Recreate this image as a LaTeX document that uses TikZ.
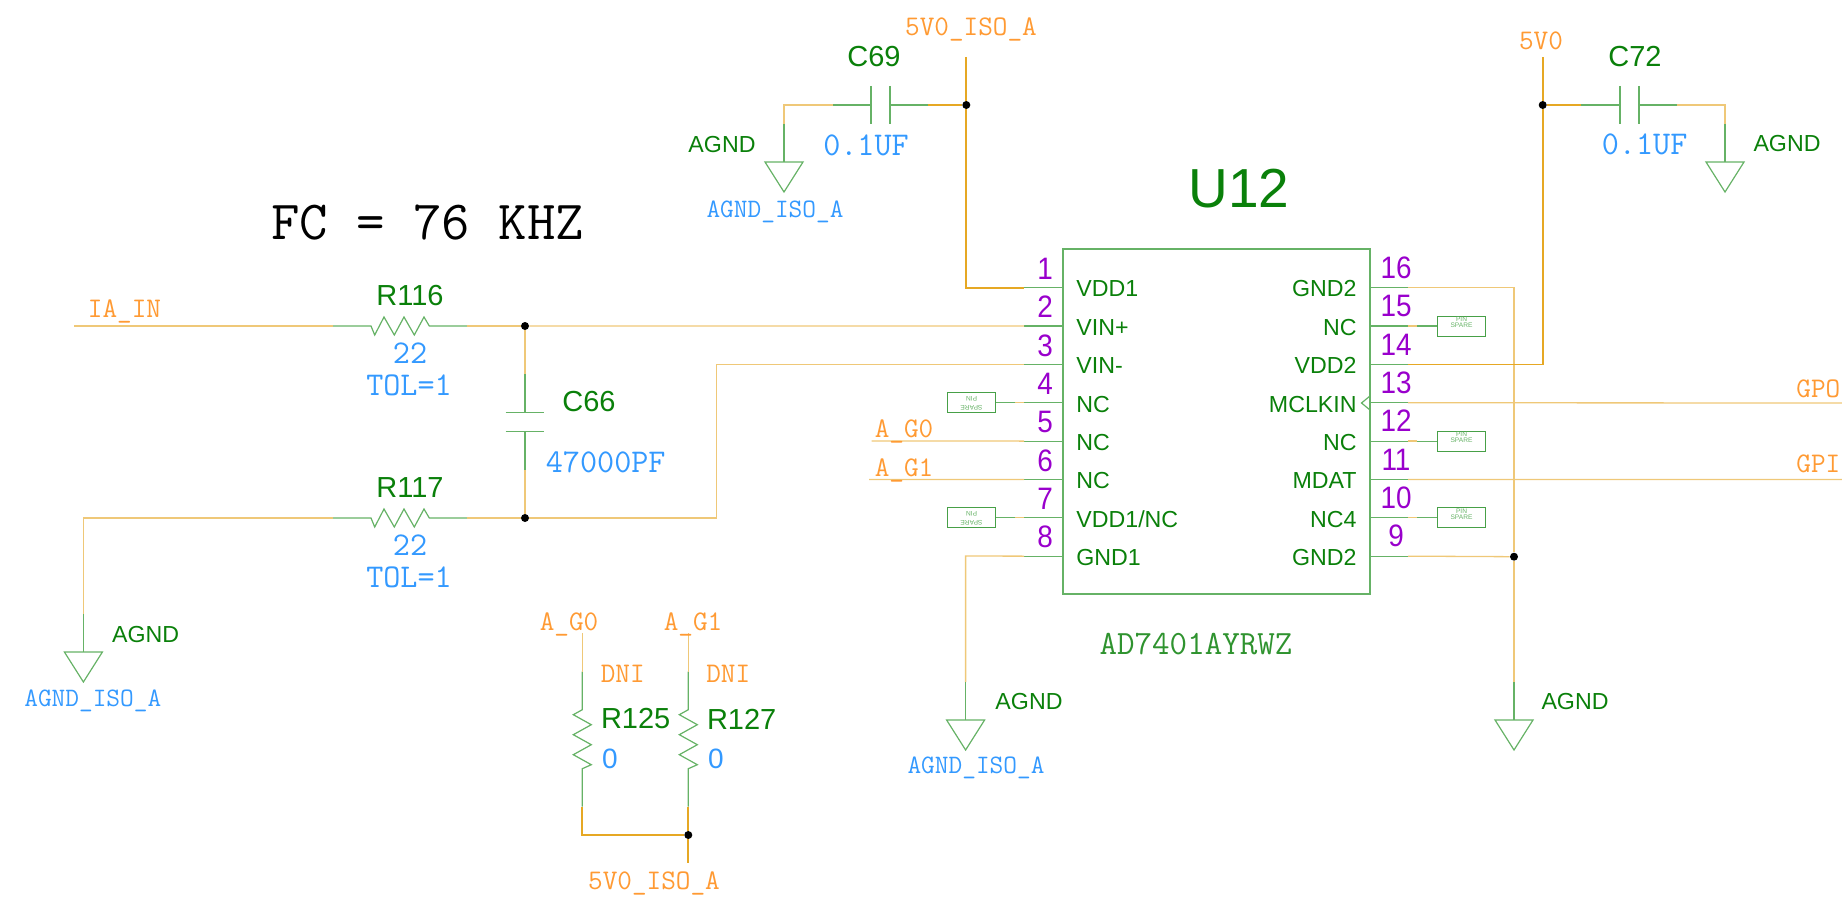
\documentclass[tikz,border=0pt]{standalone}
\usepackage{fontspec}
\setmainfont{Liberation Sans}

\definecolor{wirecol}{HTML}{EFC878}
\definecolor{railcol}{HTML}{E6A824}
\definecolor{symcol}{HTML}{66B266}
\definecolor{refcol}{HTML}{0A800A}
\definecolor{netcol}{HTML}{FF9A33}
\definecolor{valcol}{HTML}{3399FF}
\definecolor{numcol}{HTML}{9900CC}

\tikzset{
    wire/.style={draw=wirecol, line width=0.65pt},
    rail/.style={draw=railcol, line width=0.85pt},
    stub/.style={draw=symcol, line width=0.6pt},
    chip/.style={draw=symcol, line width=0.55pt, inner sep=0pt, minimum width=153.5pt, minimum height=172.5pt},
    sparebox/.style={draw=refcol!75!white, line width=0.5pt, inner sep=0pt, minimum width=24pt, minimum height=10pt},
    sparetxt/.style={text=symcol, font=\fontsize{3.3}{3.3}\selectfont, inner sep=0pt},
    dot/.style={circle, fill=black, inner sep=0pt, minimum size=4pt},
    pinnum/.style={text=numcol, font=\fontsize{15.5}{15.5}\selectfont, inner sep=0pt, transform shape, xscale=0.9},
    pinlab/.style={text=refcol, font=\fontsize{11.6}{12}\selectfont, inner sep=0pt},
    refdes/.style={text=refcol, font=\fontsize{14.5}{15}\selectfont, inner sep=0pt},
    gndlab/.style={text=refcol, font=\fontsize{11.6}{12}\selectfont, inner sep=0pt},
    netlab/.style={text=netcol, font=\ttfamily\fontsize{14.2}{14}\selectfont, inner sep=0pt, yshift=-1pt},
    vallab/.style={text=valcol, font=\ttfamily\fontsize{16.6}{17}\selectfont, inner sep=0pt, yshift=-0.5pt},
    isolab/.style={text=valcol, font=\ttfamily\fontsize{13.3}{13}\selectfont, inner sep=0pt, yshift=-0.5pt},
    hres/.pic={
        \coordinate (-a) at (0,0);
        \coordinate (-b) at (134,0);
        \draw[stub] (-a) -- (38,0) -- (41.7,9) -- (51,-9) -- (61.3,9) -- (71,-9) -- (81.3,9) -- (91,-9) -- (96.3,0) -- (-b);
    },
    vres/.pic={
        \coordinate (-a) at (0,0);
        \coordinate (-b) at (0,135);
        \draw[stub] (-a) -- (0,38) -- (-9,43) -- (9,53) -- (-9,63) -- (9,73) -- (-9,83) -- (9,93) -- (0,97) -- (-b);
    },
    gnd/.pic={
        \coordinate (-t) at (0,0);
        \draw[stub] (-19,0) -- (19,0) -- (0,30) -- cycle;
    },
}

\begin{document}
\begin{tikzpicture}[x=0.5pt, y=-0.5pt]
    \useasboundingbox (0,0) rectangle (1842,904);
    \clip (0,0) rectangle (1842,904);

    % chip
    \node[chip] (chipbox) at (1216.5,421.5) {};
    \node[text=refcol, font=\fontsize{27.5}{27}\selectfont, inner sep=0pt] (U12) at (1239,189) {U12};
    \node[text=refcol!85!white, font=\ttfamily\fontsize{17}{17}\selectfont, inner sep=0pt] (partno) at (1196,644) {AD7401AYRWZ};
    \node[font=\ttfamily\fontsize{27.6}{28}\selectfont, inner sep=0pt] (fcnote) at (427.6,223) {FC = 76 KHZ};

    % pins
    \foreach \n/\lab [count=\i from 0] in {1/VDD1,2/VIN+,3/VIN-,4/NC,5/NC,6/NC,7/{VDD1/NC},8/GND1} {
        \coordinate (L\n) at (1063,{287.7+38.35*\i});
        \coordinate (LS\n) at (1024,{287.7+38.35*\i});
        \draw[stub] (L\n) -- (LS\n);
        \node[pinnum] (numL\n) at (1045,{268.7+38.35*\i}) {\n};
        \node[pinlab, anchor=west] (labL\n) at (1076,{289+38.35*\i}) {\lab};
    }
    \foreach \n/\lab [count=\i from 0] in {16/GND2,15/NC,14/VDD2,13/MCLKIN,12/NC,11/MDAT,10/NC4,9/GND2} {
        \coordinate (R\n) at (1370,{287.7+38.35*\i});
        \coordinate (RS\n) at (1408,{287.7+38.35*\i});
        \draw[stub] (R\n) -- (RS\n);
        \node[pinnum] (numR\n) at (1396,{267.7+38.35*\i}) {\n};
        \node[pinlab, anchor=east] (labR\n) at (1357,{289+38.35*\i}) {\lab};
    }
    \draw[stub] (1370,396) -- (1361.5,403) -- (1370,410);

    % spare pins
    \foreach \n in {15,12,10} {
        \node[sparebox, anchor=west] (spare\n) at ([xshift=14.5pt]RS\n) {};
        \node[sparetxt] (pin\n) at ([yshift=3.5pt]spare\n.center) {PIN};
        \node[sparetxt] (txt\n) at ([yshift=0.2pt]spare\n.center) {SPARE};
        \draw[wire] (RS\n) -- ++(9,0) coordinate (RT\n);
        \draw[stub] (RT\n) -- (spare\n.west);
    }
    \foreach \n in {4,7} {
        \node[sparebox, anchor=east] (spare\n) at ([xshift=-14pt]LS\n) {};
        \node[sparetxt, rotate=180] (pin\n) at ([yshift=2pt]spare\n.center) {PIN};
        \node[sparetxt, rotate=180] (txt\n) at ([yshift=-2.5pt]spare\n.center) {SPARE};
        \draw[wire] (LS\n) -- ++(-9,0) coordinate (LT\n);
        \draw[stub] (LT\n) -- (spare\n.east);
    }

    % input filter
    \pic (R116) at (333,326) {hres};
    \pic (R117) at (333,518) {hres};
    \node[dot] (J1) at (525,326) {};
    \node[dot] (J2) at (525,518) {};
    \coordinate (iain) at (74,326);
    \coordinate (agndcorner) at (83.4,518);
    \coordinate (agndstub) at (83.4,614);
    \pic (G1) at (83.4,652) {gnd};
    \coordinate (bend3a) at (716.6,518);
    \coordinate (bend3b) at (716.6,364.4);
    \draw[wire] (iain) -- (R116-a);
    \draw[wire] (R116-b) -- (J1);
    \draw[wire] (J1) -- (LS2);
    \draw[wire] (agndstub) -- (agndcorner) -- (R117-a);
    \draw[stub] (agndstub) -- (G1-t);
    \draw[wire] (R117-b) -- (J2);
    \draw[wire] (J2) -- (bend3a) -- (bend3b) -- (LS3);
    \coordinate (C66a) at (525,374);
    \coordinate (C66b) at (525,412.3);
    \coordinate (C66c) at (525,431.7);
    \coordinate (C66d) at (525,470);
    \draw[wire] (J1) -- (C66a);
    \draw[stub] (C66a) -- (C66b);
    \draw[stub] (505.7,412.3) -- (544.3,412.3);
    \draw[stub] (505.7,431.7) -- (544.3,431.7);
    \draw[stub] (C66c) -- (C66d);
    \draw[wire] (C66d) -- (J2);

    \node[refdes] (R116lab) at (410,296) {R116};
    \node[vallab] (R116val) at (410,352.5) {22};
    \node[vallab] (R116tol) at (409,384) {TOL=1};
    \node[refdes] (R117lab) at (410,488) {R117};
    \node[vallab] (R117val) at (410,544.5) {22};
    \node[vallab] (R117tol) at (409,576) {TOL=1};
    \node[refdes] (C66lab) at (589,402) {C66};
    \node[vallab] (C66val) at (605.7,461) {47000PF};
    \node[netlab] (IAIN) at (124.5,309) {IA\_IN};
    \node[gndlab] (G1lab) at (145.7,635) {AGND};
    \node[isolab] (G1iso) at (92.8,700) {AGND\_ISO\_A};

    % gain pins
    \coordinate (G0end) at (871.6,441);
    \coordinate (G1end) at (869,479.4);
    \draw[wire] (G0end) -- (LS5);
    \draw[wire] (G1end) -- (LS6);
    \node[netlab] (G0lab) at (904,429) {A\_G0};
    \node[netlab] (G1netlab) at (904,468) {A\_G1};

    % AGND on pin 8
    \coordinate (g8corner) at (965.6,556);
    \coordinate (g8stub) at (965.6,682);
    \pic (G2) at (965.6,720) {gnd};
    \draw[wire] (LS8) -- (g8corner) -- (g8stub);
    \draw[stub] (g8stub) -- (G2-t);
    \node[gndlab] (G2lab) at (1029,702) {AGND};
    \node[isolab] (G2iso) at (976,767) {AGND\_ISO\_A};

    % GND2 rail
    \node[dot] (J9) at (1514,556.7) {};
    \coordinate (g16corner) at (1514,287.7);
    \coordinate (g16stub) at (1514,682);
    \pic (G3) at (1514,720) {gnd};
    \draw[wire] (RS16) -- (g16corner) -- (J9);
    \draw[wire] (RS9) -- (J9);
    \draw[wire] (J9) -- (g16stub);
    \draw[stub] (g16stub) -- (G3-t);
    \node[gndlab] (G3lab) at (1575,702) {AGND};

    % digital side
    \coordinate (mclkend) at (1842,403);
    \coordinate (mdatend) at (1842,479.4);
    \draw[wire] (RS13) -- (mclkend);
    \draw[wire] (RS11) -- (mdatend);
    \node[netlab, anchor=west] (GPOlab) at (1796,387) {GPO};
    \node[netlab, anchor=west] (GPIlab) at (1796,462) {GPI};

    % 5V0_ISO_A and C69
    \node[dot] (J3) at (966.3,105) {};
    \coordinate (iso top) at (966.3,57);
    \coordinate (iso corner) at (966.3,287.7);
    \draw[rail] (iso top) -- (J3);
    \draw[rail] (J3) -- (iso corner) -- (LS1);
    \coordinate (C69r) at (928,105);
    \coordinate (C69p) at (890,105);
    \coordinate (C69q) at (871,105);
    \coordinate (C69l) at (833,105);
    \coordinate (C69c) at (784,105);
    \coordinate (C69g) at (784,124);
    \pic (G4) at (784,162) {gnd};
    \draw[rail] (J3) -- (C69r);
    \draw[stub] (C69r) -- (C69p);
    \draw[stub] (890,86) -- (890,124);
    \draw[stub] (871,86) -- (871,124);
    \draw[stub] (C69q) -- (C69l);
    \draw[wire] (C69l) -- (C69c) -- (C69g);
    \draw[stub] (C69g) -- (G4-t);
    \node[netlab] (isolab1) at (971,27) {5V0\_ISO\_A};
    \node[refdes] (C69lab) at (874,57) {C69};
    \node[vallab] (C69val) at (866,144) {0.1UF};
    \node[gndlab] (G4lab) at (722,145) {AGND};
    \node[isolab] (G4iso) at (775,211) {AGND\_ISO\_A};

    % 5V0 and C72
    \node[dot] (J4) at (1542.7,105) {};
    \coordinate (v5top) at (1542.7,57);
    \coordinate (v5corner) at (1542.7,364.4);
    \draw[rail] (v5top) -- (J4);
    \draw[rail] (J4) -- (v5corner) -- (RS14);
    \coordinate (C72l) at (1581,105);
    \coordinate (C72p) at (1620,105);
    \coordinate (C72q) at (1639,105);
    \coordinate (C72r) at (1677,105);
    \coordinate (C72c) at (1725,105);
    \coordinate (C72g) at (1725,124);
    \pic (G5) at (1725,162) {gnd};
    \draw[rail] (J4) -- (C72l);
    \draw[stub] (C72l) -- (C72p);
    \draw[stub] (1620,86) -- (1620,124);
    \draw[stub] (1639,86) -- (1639,124);
    \draw[stub] (C72q) -- (C72r);
    \draw[wire] (C72r) -- (C72c) -- (C72g);
    \draw[stub] (C72g) -- (G5-t);
    \node[netlab] (v5lab) at (1541,39) {5V0};
    \node[refdes] (C72lab) at (1635,56.4) {C72};
    \node[vallab] (C72val) at (1644.6,143) {0.1UF};
    \node[gndlab] (G5lab) at (1787,144) {AGND};

    % strap resistors
    \coordinate (st0) at (582.3,633);
    \coordinate (st1) at (688.3,633);
    \pic (R125) at (582.3,671.7) {vres};
    \pic (R127) at (688.3,671.7) {vres};
    \node[dot] (J5) at (688.3,835) {};
    \coordinate (st0c) at (582.3,835);
    \coordinate (stend) at (688.3,863);
    \draw[wire] (st0) -- (R125-a);
    \draw[wire] (st1) -- (R127-a);
    \draw[rail] (R125-b) -- (st0c) -- (J5);
    \draw[rail] (R127-b) -- (J5);
    \draw[rail] (J5) -- (stend);
    \node[netlab] (stlab0) at (569,622.7) {A\_G0};
    \node[netlab] (stlab1) at (693,622.7) {A\_G1};
    \node[netlab] (dni0) at (622.7,672) {DNI};
    \node[netlab] (dni1) at (728.3,672) {DNI};
    \node[refdes] (R125lab) at (635.7,719) {R125};
    \node[refdes] (R127lab) at (741.7,719) {R127};
    \node[text=valcol, font=\fontsize{14}{14}\selectfont, inner sep=0pt] (R125val) at (610,759) {0};
    \node[text=valcol, font=\fontsize{14}{14}\selectfont, inner sep=0pt] (R127val) at (716,759) {0};
    \node[netlab] (isolab2) at (654,881.7) {5V0\_ISO\_A};
\end{tikzpicture}
\end{document}
